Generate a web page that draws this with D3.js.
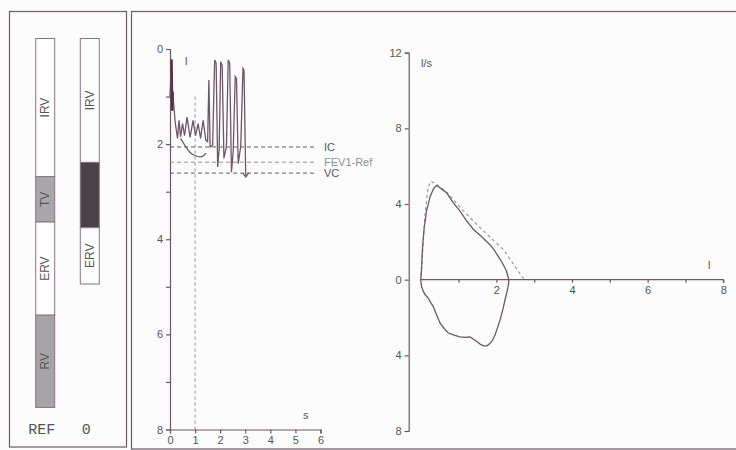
<!DOCTYPE html>
<html>
<head>
<meta charset="utf-8">
<script src="https://cdn.jsdelivr.net/npm/d3@7/dist/d3.min.js"></script>
<style>
  body { margin: 0; background: #fcfcfc; }
  svg { display: block; }
  .axis path, .axis line { stroke: #6f5864; stroke-width: 1.2; }
  .axis text { font-family: "Liberation Sans", Arial, sans-serif; font-size: 11px; fill: #555; }
  .lbl { font-family: "Liberation Sans", Arial, sans-serif; font-size: 11px; fill: #555; }
</style>
</head>
<body>
<div id="chart"></div>
<script>

// ---- lung volume bars (litres) ----
var barNames = ["REF", "0"];
var refSegs = ["IRV", "TV", "ERV", "RV"];
var refVals = [2.92, 0.96, 1.97, 1.95];
var obsSegs = ["IRV", "TV", "ERV"];
var obsVals = [2.62, 1.38, 1.19];

// ---- spirogram: volume (l) over time (s) ----
var spiroT = [0.00, 0.06, 0.09, 0.11, 0.16, 0.21, 0.30, 0.36, 0.42, 0.50, 0.58, 0.68, 0.80, 0.92, 1.02, 1.12, 1.22, 1.32, 1.43, 1.50,
              1.55, 1.60, 1.70, 1.78, 1.84, 1.90, 1.96, 2.02, 2.08, 2.15, 2.25, 2.32, 2.38, 2.45, 2.52, 2.60, 2.65, 2.72, 2.82, 2.91, 2.95, 3.02];
var spiroV = [1.00, 0.22, 1.30, 0.90, 1.25, 1.55, 1.88, 1.50, 1.85, 1.57, 1.82, 1.43, 1.86, 1.50, 1.82, 1.57, 1.88, 1.50, 1.92, 1.95,
              0.65, 2.06, 2.02, 0.23, 0.30, 2.48, 2.10, 0.27, 0.35, 2.30, 2.05, 0.23, 0.30, 2.59, 2.15, 0.58, 0.62, 2.41, 2.05, 0.41, 0.45, 2.69];
// forced expiration curve
var fevT = [0.42, 0.60, 0.79, 0.99, 1.19, 1.35, 1.43];
var fevV = [1.88, 2.03, 2.17, 2.24, 2.27, 2.24, 2.19];
// reference levels
var levelNames = ["IC", "FEV1-Ref", "VC"];
var levelVals = [2.06, 2.38, 2.61];
var fev1Time = 1, fev1Top = 1.0;
var timeTicks = [0, 1, 2, 3, 4, 5, 6];
var volTicks = [0, 1, 2, 3, 4, 5, 6, 7, 8];

// ---- flow-volume loop ----
var expVol  = [0, 0.02, 0.05, 0.09, 0.15, 0.25, 0.35, 0.42, 0.55, 0.69, 0.85, 1.04, 1.20, 1.39, 1.60, 1.83, 1.95, 2.05, 2.14, 2.26, 2.33];
var expFlow = [0, 0.55, 1.75, 2.70, 3.60, 4.40, 4.85, 4.98, 4.80, 4.58, 4.10, 3.62, 3.15, 2.67, 2.30, 1.85, 1.55, 1.23, 0.95, 0.50, 0.00];
var inspVol  = [2.33, 2.32, 2.28, 2.23, 2.17, 2.10, 2.03, 1.97, 1.90, 1.83, 1.75, 1.66, 1.58, 1.50, 1.40, 1.30, 1.17, 1.04, 0.90, 0.73,
                0.62, 0.51, 0.42, 0.33, 0.26, 0.20, 0.12, 0.07, 0.02, 0];
var inspFlow = [0, -0.26, -0.65, -1.06, -1.60, -2.11, -2.55, -2.90, -3.20, -3.38, -3.50, -3.50, -3.42, -3.30, -3.15, -3.03, -3.05, -3.02, -2.95, -2.82,
                -2.58, -2.29, -1.85, -1.41, -1.20, -0.97, -0.80, -0.62, -0.35, 0];
var predVol  = [0.02, 0.06, 0.12, 0.20, 0.27, 0.45, 0.70, 1.10, 1.61, 2.19, 2.72];
var predFlow = [0.20, 1.80, 3.60, 4.90, 5.20, 5.00, 4.60, 3.70, 2.67, 1.58, 0.05];
var flowTicks = [12, 8, 4, 0, -4, -8];
var lvTicks = [1, 2, 3, 4, 5, 6, 7, 8];


var W = 736, H = 450;
var svg = d3.select("#chart").append("svg")
    .attr("width", W)
    .attr("height", H);

var ink = "#6f5864";
var trace = "#6e5766";

// panel frames
svg.append("rect").attr("x", 9.5).attr("y", 11.5).attr("width", 117).attr("height", 435.5)
    .attr("fill", "none").attr("stroke", ink).attr("stroke-width", 1.2);
svg.append("rect").attr("x", 131.5).attr("y", 11.5).attr("width", 620).attr("height", 437.5)
    .attr("fill", "none").attr("stroke", ink).attr("stroke-width", 1.2);


/*
 * Volume bars
 */
var barX = d3.scalePoint().domain(barNames).range([45.2, 89.8]);
var barY = d3.scaleLinear().domain([0, 8]).range([38.5, 38.5 + 8 * 47.3]);
var barW = 19;
var segFill = { REF: ["#fdfdfd", "#a9a7a9", "#fdfdfd", "#a6a4a6"], "0": ["#fdfdfd", "#4b4249", "#fdfdfd"] };
var segText = { REF: ["#555", "#555", "#555", "#555"], "0": ["#555", "none", "#555"] };

function drawBar(name, segs, vals) {
    var ends = Array.from(d3.cumsum(vals));
    var starts = [0].concat(ends.slice(0, -1));
    var g = svg.append("g");
    g.selectAll("rect").data(segs).enter().append("rect")
        .attr("x", barX(name) - barW / 2)
        .attr("y", function(d, i) { return barY(starts[i]); })
        .attr("width", barW)
        .attr("height", function(d, i) { return barY(ends[i]) - barY(starts[i]); })
        .attr("fill", function(d, i) { return segFill[name][i]; })
        .attr("stroke", "#8a7482")
        .attr("stroke-width", 1);
    g.selectAll("text").data(segs).enter().append("text")
        .attr("class", "lbl")
        .attr("transform", function(d, i) {
            return "translate(" + (barX(name) + 4) + "," + barY((starts[i] + ends[i]) / 2) + ") rotate(-90)";
        })
        .style("text-anchor", "middle")
        .style("font-size", "12px")
        .style("fill", function(d, i) { return segText[name][i]; })
        .text(function(d) { return d; });
    svg.append("text")
        .attr("x", barX(name) - 3.5)
        .attr("y", 434)
        .style("text-anchor", "middle")
        .style("font-family", "'Liberation Mono', 'DejaVu Sans Mono', monospace")
        .style("font-size", "15px")
        .style("fill", "#555")
        .text(name);
}
drawBar("REF", refSegs, refVals);
drawBar("0", obsSegs, obsVals);


/*
 * Spirogram (volume / time)
 */
var sx = d3.scaleLinear().domain([0, 6]).range([170, 320.5]);
var sy = d3.scaleLinear().domain([0, 8]).range([49, 429.5]);

var sxAxis = d3.axisBottom(sx).tickValues(timeTicks).tickSize(4).tickSizeOuter(4).tickPadding(3)
    .tickFormat(d3.format("d"));
var syAxis = d3.axisLeft(sy).tickValues(volTicks).tickSize(4).tickSizeOuter(4).tickPadding(3)
    .tickFormat(function(d) { return d % 2 === 0 ? d : ""; });

svg.append("g").attr("class", "axis")
    .attr("transform", "translate(0," + sy(8) + ")")
    .call(sxAxis);
svg.append("g").attr("class", "axis")
    .attr("transform", "translate(" + sx(0) + ",0)")
    .call(syAxis);

svg.append("text").attr("class", "lbl").attr("x", 185).attr("y", 65).text("l");
svg.append("text").attr("class", "lbl").attr("x", 303).attr("y", 419).text("s");

// FEV1 time marker
svg.append("line")
    .attr("x1", sx(fev1Time)).attr("x2", sx(fev1Time))
    .attr("y1", sy(fev1Top)).attr("y2", sy(8))
    .attr("stroke", "#9b8a95").attr("stroke-width", 1).attr("stroke-dasharray", "3,3");

// reference levels
var levelColor = ["#555", "#8f8f8f", "#555"];
svg.selectAll(".level").data(levelVals).enter().append("line")
    .attr("class", "level")
    .attr("x1", sx(0)).attr("x2", 317)
    .attr("y1", function(d) { return sy(d); })
    .attr("y2", function(d) { return sy(d); })
    .attr("stroke", function(d, i) { return i === 1 ? "#9a8d96" : "#6f5864"; })
    .attr("stroke-width", 1)
    .attr("stroke-dasharray", "4,3");
svg.selectAll(".levelLbl").data(levelNames).enter().append("text")
    .attr("class", "lbl")
    .attr("x", 324)
    .attr("y", function(d, i) { return sy(levelVals[i]) + 4; })
    .style("fill", function(d, i) { return levelColor[i]; })
    .text(function(d) { return d; });

var spiroLine = d3.line()
    .x(function(d) { return sx(d[0]); })
    .y(function(d) { return sy(d[1]); });

var spiroPts = d3.zip(spiroT, spiroV);
svg.append("path")
    .datum(spiroPts)
    .attr("d", spiroLine)
    .attr("fill", "none")
    .attr("stroke", trace)
    .attr("stroke-width", 1.3);

// heavier start of the recording
svg.append("path")
    .datum(spiroPts.slice(1, 4))
    .attr("d", spiroLine)
    .attr("fill", "none")
    .attr("stroke", "#5a3044")
    .attr("stroke-width", 2.4);

svg.append("path")
    .datum(d3.zip(fevT, fevV))
    .attr("d", d3.line().curve(d3.curveMonotoneX)
        .x(function(d) { return sx(d[0]); })
        .y(function(d) { return sy(d[1]); }))
    .attr("fill", "none")
    .attr("stroke", trace)
    .attr("stroke-width", 1.2);

// end of recording marker
var endT = spiroT[spiroT.length - 1], endV = spiroV[spiroV.length - 1];
svg.append("path")
    .attr("d", "M" + (sx(endT) - 3) + "," + (sy(endV) - 4) + "L" + sx(endT) + "," + sy(endV) + "L" + (sx(endT) + 3) + "," + (sy(endV) - 4))
    .attr("fill", "none").attr("stroke", trace).attr("stroke-width", 1.2);


/*
 * Flow-volume loop
 */
var fx = d3.scaleLinear().domain([0, 8]).range([420.7, 723.3]);
var fy = d3.scaleLinear().domain([12, -8]).range([52.7, 431]);

var fxAxis = d3.axisBottom(fx).tickValues(lvTicks).tickSize(3).tickSizeOuter(0).tickPadding(4)
    .tickFormat(function(d) { return d % 2 === 0 ? d : ""; });
var fyAxis = d3.axisLeft(fy).tickValues(flowTicks).tickSize(4).tickSizeOuter(4).tickPadding(3)
    .tickFormat(function(d) { return Math.abs(d); });

var fxG = svg.append("g").attr("class", "axis")
    .attr("transform", "translate(0," + fy(0) + ")")
    .call(fxAxis);
fxG.select(".domain").attr("d", "M" + fx(0) + ",0H" + fx(8) + "V3");

svg.append("g").attr("class", "axis")
    .attr("transform", "translate(" + (fx(0) - 12) + ",0)")
    .call(fyAxis);

svg.append("text").attr("class", "lbl").attr("x", 421).attr("y", 67).text("l/s");
svg.append("text").attr("class", "lbl").attr("x", 708).attr("y", 269).text("l");

var fvLine = d3.line()
    .x(function(d) { return fx(d[0]); })
    .y(function(d) { return fy(d[1]); });

svg.append("path")
    .datum(d3.zip(predVol, predFlow))
    .attr("d", fvLine)
    .attr("fill", "none")
    .attr("stroke", "#9b8a95")
    .attr("stroke-width", 1.1)
    .attr("stroke-dasharray", "3,3");

svg.append("path")
    .datum(d3.zip(expVol, expFlow).concat(d3.zip(inspVol, inspFlow)))
    .attr("d", fvLine)
    .attr("fill", "none")
    .attr("stroke", trace)
    .attr("stroke-width", 1.3);

</script>
</body>
</html>
